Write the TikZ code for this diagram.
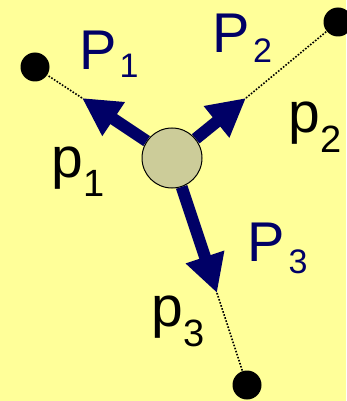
\documentclass[tikz,border=0pt]{standalone}
\usepackage{fontspec}
\setmainfont{Liberation Sans}
\usetikzlibrary{arrows.meta}

\definecolor{bgyellow}{RGB}{255,255,153}
\definecolor{forcenavy}{RGB}{0,0,102}
\definecolor{massgray}{RGB}{204,204,153}

% lowered subscript: drop, size, text
\newcommand{\subnum}[3]{\raisebox{-#1pt}{\fontsize{#2}{#2}\selectfont #3}}

\begin{document}
\begin{tikzpicture}[
    x=1pt, y=-1pt,
    mass/.style={circle, draw, line width=1pt, fill=massgray, minimum size=60pt, inner sep=0pt},
    point/.style={circle, fill=black, minimum size=29pt, inner sep=0pt},
    force/.style={draw, line width=12pt, color=forcenavy, -{Triangle[length=38pt,width=38pt]}},
    guide/.style={draw, line width=1.6pt, dash pattern=on 1.6pt off 1.6pt},
    bigP/.style={anchor=base west, inner sep=0pt, text=forcenavy, font=\fontsize{56}{56}\selectfont},
    smallp/.style={anchor=base west, inner sep=0pt, text=black, font=\fontsize{57}{57}\selectfont}
]

    % Background
    \useasboundingbox (0,0) rectangle (346,401);
    \fill [bgyellow] (0,0) rectangle (346,401);

    % Attachment points and arrow tips
    \node [point] (pt1) at (35,67) {};
    \node [point] (pt2) at (338,22) {};
    \node [point] (pt3) at (247,385) {};
    \coordinate (tip1) at (82,98);
    \coordinate (tip2) at (246,98);
    \coordinate (tip3) at (217,293);

    % Body
    \node [mass] (body) at (172,158) {};

    % Dotted guide lines
    \path [guide] (tip1) -- (pt1);
    \path [guide] (tip2) -- (pt2);
    \path [guide] (tip3) -- (pt3);

    % Forces
    \path [force] (body) -- (tip1);
    \path [force] (body) -- (tip2);
    \path [force] (body) -- (tip3);

    % Labels
    \node [bigP] (labP1) at (79,70) {P\kern3pt\subnum{8}{34}{1}};
    \node [bigP] (labP2) at (212.5,53) {P\kern3pt\subnum{10}{34}{2}};
    \node [bigP] (labP3) at (247.5,261) {P\kern3.5pt\subnum{12}{34}{3}};
    \node [smallp] (labp1) at (51,177) {p\kern0.5pt\subnum{19}{38}{1}};
    \node [smallp] (labp2) at (288,132) {p\kern1pt\subnum{20}{38}{2}};
    \node [smallp] (labp3) at (151,326) {p\kern1pt\subnum{20}{38}{3}};

\end{tikzpicture}
\end{document}
